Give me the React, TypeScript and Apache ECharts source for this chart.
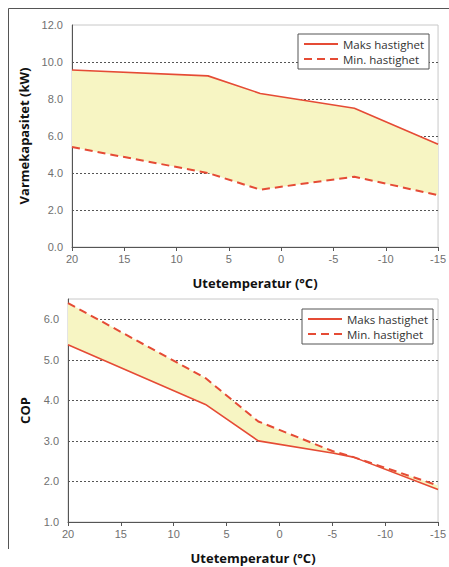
import React, { useEffect, useRef } from "react";
import * as echarts from "echarts";

const seriesNames = ["Maks hastighet", "Min. hastighet"];
const xTitle = "Utetemperatur (°C)";
const capTitle = "Varmekapasitet (kW)";
const copTitle = "COP";

const capTemps = [20, 7, 2, -7, -15];
const capMax = [9.57, 9.25, 8.3, 7.5, 5.55];
const capMin = [5.4, 4.0, 3.1, 3.8, 2.8];

const copTemps = [20, 7, 2, -5, -7, -15];
const copMax = [5.37, 3.9, 3.0, 2.7, 2.6, 1.8];
const copMin = [6.4, 4.55, 3.48, 2.75, 2.6, 1.9];

const RED = "#e54b35";
const FILL = "#f7f5c3";
const GRID = "#555";
const LABEL = "#707070";

function pairs(xs: number[], ys: number[]) {
  return xs.map((x, i) => [x, ys[i]]);
}

function band(idx: number, xs: number[], a: number[], b: number[]) {
  return {
    type: "custom",
    xAxisIndex: idx,
    yAxisIndex: idx,
    silent: true,
    z: 1,
    clip: true,
    data: pairs(xs, a),
    renderItem: (params: any, api: any) => {
      if (params.dataIndex !== 0) return null;
      const top = xs.map((x, i) => api.coord([x, a[i]]));
      const bot = xs.map((x, i) => api.coord([x, b[i]])).reverse();
      return {
        type: "polygon",
        shape: { points: [...top, ...bot] },
        style: { fill: FILL },
      };
    },
  };
}

function lineSeries(idx: number, name: string, xs: number[], ys: number[], dashed: boolean) {
  return {
    type: "line",
    name,
    xAxisIndex: idx,
    yAxisIndex: idx,
    data: pairs(xs, ys),
    symbol: "none",
    z: 3,
    color: RED,
    lineStyle: dashed
      ? { color: RED, width: 2, type: [8, 5] }
      : { color: RED, width: 1.6 },
  };
}

function xAxis(idx: number) {
  return {
    type: "value",
    gridIndex: idx,
    min: -15,
    max: 20,
    interval: 5,
    inverse: true,
    name: xTitle,
    nameLocation: "middle",
    nameGap: 29,
    nameTextStyle: { fontFamily: "Open Sans", fontWeight: "bold", fontSize: 13, color: "#111" },
    axisLine: { show: true, onZero: false, lineStyle: { color: "#555", width: 1 } },
    axisTick: { show: true, length: 4, lineStyle: { color: "#555" } },
    axisLabel: { color: LABEL, fontFamily: "Liberation Sans", fontSize: 11, margin: 6 },
    splitLine: { show: false },
  };
}

function yAxis(idx: number, min: number, max: number, interval: number, name: string, gap: number, nSplit: number) {
  const colors: string[] = [];
  for (let i = 0; i < nSplit; i++) colors.push(i === 0 || i === nSplit - 1 ? "transparent" : GRID);
  return {
    type: "value",
    gridIndex: idx,
    min,
    max,
    interval,
    name,
    nameLocation: "middle",
    nameGap: gap,
    nameRotate: 90,
    nameTextStyle: { fontFamily: "Open Sans", fontWeight: "bold", fontSize: 13, color: "#111" },
    axisLine: { show: true, onZero: false, lineStyle: { color: "#555", width: 1 } },
    axisTick: { show: false },
    axisLabel: {
      color: LABEL,
      fontFamily: "Liberation Sans",
      fontSize: 11,
      margin: 9,
      showMaxLabel: idx === 0,
      formatter: (v: number) => v.toFixed(1),
    },
    splitLine: { show: true, lineStyle: { color: colors, type: [2, 2], width: 1 } },
  };
}

function legend(left: number, top: number) {
  return {
    left,
    top,
    orient: "vertical",
    data: seriesNames,
    itemWidth: 34,
    itemHeight: 10,
    itemGap: 3,
    padding: [4, 5, 4, 5],
    borderColor: "#555",
    borderWidth: 1,
    borderRadius: 0,
    backgroundColor: "#fff",
    selectedMode: false,
    itemStyle: { opacity: 0 },
    textStyle: { fontFamily: "Open Sans", fontSize: 11.5, color: "#333" },
  };
}

export default function App() {
  const ref = useRef<HTMLDivElement>(null);
  useEffect(() => {
    if (!ref.current) return;
    const chart = echarts.init(ref.current, undefined, { renderer: "svg" });
    chart.setOption({
      animation: false,
      backgroundColor: "#fff",
      grid: [
        { left: 72, right: 9, top: 25, bottom: 320, show: true, borderColor: "#c8c8c8", borderWidth: 1, backgroundColor: "transparent" },
        { left: 68, right: 6, top: 299, bottom: 45, show: true, borderColor: "#c8c8c8", borderWidth: 1, backgroundColor: "transparent" },
      ],
      xAxis: [xAxis(0), xAxis(1)],
      yAxis: [
        yAxis(0, 0, 12, 2, capTitle, 42, 7),
        yAxis(1, 1, 6.5, 1, copTitle, 37, 7),
      ],
      legend: [legend(298, 34), legend(302, 309)],
      graphic: [
        { type: "line", shape: { x1: 8.5, y1: 8.5, x2: 449, y2: 8.5 }, style: { stroke: "#555", lineWidth: 1 }, silent: true },
        { type: "line", shape: { x1: 8.5, y1: 8.5, x2: 8.5, y2: 549 }, style: { stroke: "#555", lineWidth: 1 }, silent: true },
      ],
      series: [
        band(0, capTemps, capMax, capMin),
        lineSeries(0, seriesNames[0], capTemps, capMax, false),
        lineSeries(0, seriesNames[1], capTemps, capMin, true),
        band(1, copTemps, copMin, copMax),
        lineSeries(1, seriesNames[0], copTemps, copMax, false),
        lineSeries(1, seriesNames[1], copTemps, copMin, true),
      ],
    });
    return () => chart.dispose();
  }, []);
  return (
    <div
      ref={ref}
      style={{ position: "fixed", left: 0, top: 0, width: 449, height: 567, background: "#fff" }}
    />
  );
}
